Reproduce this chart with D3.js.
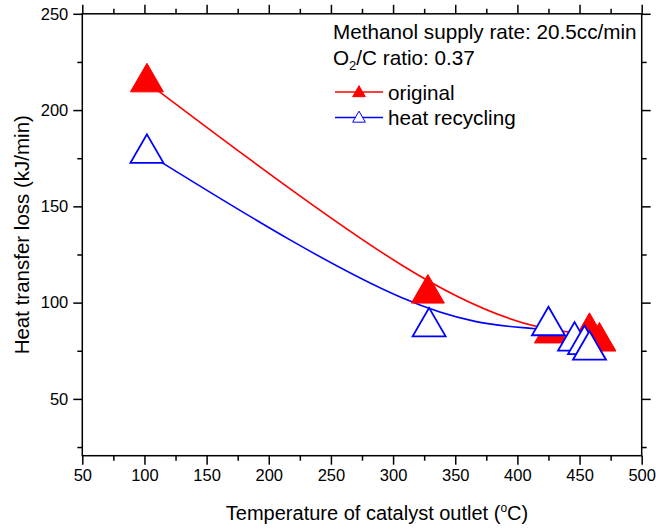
<!DOCTYPE html>
<html>
<head>
<meta charset="utf-8">
<script src="https://cdn.jsdelivr.net/npm/d3@7"></script>
<style>
  body { margin: 0; background: #fff; }
  svg { display: block; font-family: Arial, "Liberation Sans", sans-serif; }
</style>
</head>
<body>
<svg width="656" height="529"></svg>
<script>
// values
var origTemp = [102, 328, 427, 458, 466];
var origLoss = [214.4, 104.7, 84, 84.8, 79.8];
var recTemp = [102, 329, 425, 446, 454, 458];
var recLoss = [177.5, 87.4, 88, 80, 78.2, 75.3];

var xTicks = [50, 100, 150, 200, 250, 300, 350, 400, 450, 500];
var xMinor = [75, 125, 175, 225, 275, 325, 375, 425, 475];
var yTicks = [50, 100, 150, 200, 250];
var yMinor = [25, 75, 125, 175, 225];

var svg = d3.select("svg"),
  width = +svg.attr("width"),
  height = +svg.attr("height");

var mLeft = 82.3, mRight = 641.7, mTop = 13.8, mBottom = 455.7;

var x = d3.scaleLinear().domain([50, 500]).range([mLeft, mRight]);
var y = d3.scaleLinear().domain([20.5, 250]).range([mBottom, mTop]);

var majorLen = 9, minorLen = 5;

// axes: major + minor ticks on all four sides
function drawAxis(gen, tr, vals, len, labels) {
  var g = svg.append("g")
    .attr("transform", tr)
    .call(gen.tickValues(vals).tickSize(len).tickPadding(5)
      .tickFormat(labels ? d3.format("d") : ""));
  g.select(".domain").remove();
  g.selectAll("line").attr("stroke", "#000").attr("stroke-width", 1.5);
  g.selectAll("text").attr("fill", "#000").style("font-size", "16.5px");
  return g;
}

var yMinorIn = yMinor.filter(function (d) { return d > 20.5; });

drawAxis(d3.axisBottom(x), "translate(0," + mBottom + ")", xTicks, majorLen, true);
drawAxis(d3.axisBottom(x), "translate(0," + mBottom + ")", xMinor, minorLen, false);
drawAxis(d3.axisTop(x), "translate(0," + mTop + ")", xTicks, majorLen, false);
drawAxis(d3.axisTop(x), "translate(0," + mTop + ")", xMinor, minorLen, false);
drawAxis(d3.axisLeft(y), "translate(" + mLeft + ",0)", yTicks, majorLen, true);
drawAxis(d3.axisLeft(y), "translate(" + mLeft + ",0)", yMinorIn, minorLen, false);
drawAxis(d3.axisRight(y), "translate(" + mRight + ",0)", yTicks, majorLen, false);
drawAxis(d3.axisRight(y), "translate(" + mRight + ",0)", yMinorIn, minorLen, false);

// frame
svg.append("rect")
  .attr("x", mLeft).attr("y", mTop)
  .attr("width", mRight - mLeft).attr("height", mBottom - mTop)
  .attr("fill", "none").attr("stroke", "#000").attr("stroke-width", 1.5);

// axis titles
var xt = svg.append("text")
  .attr("x", 377)
  .attr("y", 520)
  .attr("text-anchor", "middle")
  .style("font-size", "20px");
xt.append("tspan").text("Temperature of catalyst outlet (");
xt.append("tspan").attr("dy", -8).style("font-size", "12px").text("o");
xt.append("tspan").attr("dy", 8).text("C)");

svg.append("text")
  .attr("transform", "translate(29," + ((mTop + mBottom) / 2) + ") rotate(-90)")
  .attr("text-anchor", "middle")
  .style("font-size", "20.5px")
  .text("Heat transfer loss (kJ/min)");

// fitted curves (B-spline through the points)
var line = d3.line()
  .x(function (d) { return x(d[0]); })
  .y(function (d) { return y(d[1]); })
  .curve(d3.curveBasis);

var origPts = d3.zip(origTemp, origLoss);
var recPts = d3.zip(recTemp, recLoss);

svg.append("path").datum(origPts)
  .attr("d", line).attr("fill", "none")
  .attr("stroke", "#ff0000").attr("stroke-width", 1.6);
svg.append("path").datum(recPts)
  .attr("d", line).attr("fill", "none")
  .attr("stroke", "#0000ff").attr("stroke-width", 1.6);

var tri = d3.symbol().type(d3.symbolTriangle).size(471);

svg.append("g").selectAll("path")
  .data(origPts).enter().append("path")
  .attr("d", tri)
  .attr("transform", function (d) { return "translate(" + x(d[0]) + "," + y(d[1]) + ")"; })
  .attr("fill", "#ff0000").attr("stroke", "#ff0000").attr("stroke-width", 1);

svg.append("g").selectAll("path")
  .data(recPts).enter().append("path")
  .attr("d", tri)
  .attr("transform", function (d) { return "translate(" + x(d[0]) + "," + y(d[1]) + ")"; })
  .attr("fill", "#fff").attr("stroke", "#0000ff").attr("stroke-width", 1.8);

// annotation and legend
svg.append("text").attr("x", 333).attr("y", 38.5)
  .style("font-size", "20.7px")
  .text("Methanol supply rate: 20.5cc/min");

var o2 = svg.append("text").attr("x", 333).attr("y", 65).style("font-size", "20.7px");
o2.append("tspan").text("O");
o2.append("tspan").attr("dy", 5).style("font-size", "13px").text("2");
o2.append("tspan").attr("dy", -5).text("/C ratio: 0.37");

var legendItems = [
  {name: "original", color: "#ff0000", fill: "#ff0000", y: 92},
  {name: "heat recycling", color: "#0000ff", fill: "#fff", y: 117.5}
];
var legTri = d3.symbol().type(d3.symbolTriangle).size(70);

legendItems.forEach(function (d) {
  svg.append("line")
    .attr("x1", 335).attr("x2", 383)
    .attr("y1", d.y).attr("y2", d.y)
    .attr("stroke", d.color).attr("stroke-width", 1.6);
  svg.append("path")
    .attr("d", legTri)
    .attr("transform", "translate(359," + (d.y + 1) + ")")
    .attr("fill", d.fill).attr("stroke", d.color).attr("stroke-width", 1);
  svg.append("text")
    .attr("x", 388).attr("y", d.y + 7.5)
    .style("font-size", "20.7px")
    .text(d.name);
});
</script>
</body>
</html>
